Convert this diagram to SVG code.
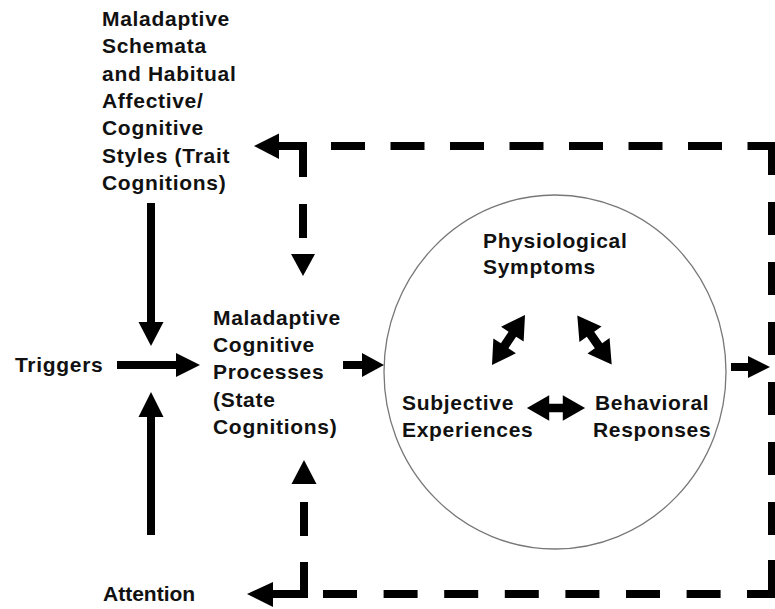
<svg xmlns="http://www.w3.org/2000/svg" width="775" height="609" viewBox="0 0 775 609">
<style>
.t{font-family:"Liberation Sans",Arial,sans-serif;font-weight:bold;font-size:21px;letter-spacing:0.7px;fill:#111}
.solid{stroke:#000;stroke-width:8;fill:none}
.dash{stroke:#000;stroke-width:8;fill:none}
.head{fill:#000}
</style>
<defs>
<polygon id="dbl" points="-30,0 -7,-13.5 -7,-4.5 7,-4.5 7,-13.5 30,0 7,13.5 7,4.5 -7,4.5 -7,13.5"/>
</defs>
<rect width="775" height="609" fill="#fff"/>

<g id="trait">
<text class="t"><tspan x="102" y="26">Maladaptive</tspan><tspan x="102" y="53">Schemata</tspan><tspan x="102" y="81">and Habitual</tspan><tspan x="102" y="108">Affective/</tspan><tspan x="102" y="135">Cognitive</tspan><tspan x="102" y="163">Styles (Trait</tspan><tspan x="102" y="190">Cognitions)</tspan></text>
</g>
<g id="triggers"><text class="t" x="15" y="372">Triggers</text></g>
<g id="attention"><text class="t" x="103" y="601" style="letter-spacing:0">Attention</text></g>
<g id="state">
<text class="t"><tspan x="213" y="325">Maladaptive</tspan><tspan x="213" y="352">Cognitive</tspan><tspan x="213" y="379">Processes</tspan><tspan x="213" y="407">(State</tspan><tspan x="213" y="434">Cognitions)</tspan></text>
</g>
<g id="response">
<ellipse cx="555" cy="372" rx="171" ry="177" fill="none" stroke="#777" stroke-width="1.3"/>
<text class="t"><tspan x="483" y="248">Physiological</tspan><tspan x="483" y="274">Symptoms</tspan></text>
<text class="t"><tspan x="402" y="410">Subjective</tspan><tspan x="402" y="437">Experiences</tspan></text>
<text class="t"><tspan x="595" y="410">Behavioral</tspan><tspan x="593" y="437">Responses</tspan></text>
<use href="#dbl" transform="translate(508.5,340) rotate(-56.6)"/>
<use href="#dbl" transform="translate(594.5,340) rotate(55)"/>
<use href="#dbl" transform="translate(556,408) scale(0.97,0.95)"/>
</g>

<g id="connectors">
<line class="solid" x1="151" y1="203" x2="151" y2="323"/>
<polygon class="head" points="138.5,322 163.5,322 151,346"/>
<line class="solid" x1="117" y1="365" x2="177" y2="365"/>
<polygon class="head" points="176,353 176,377 200,365"/>
<line class="solid" x1="151" y1="535" x2="151" y2="416"/>
<polygon class="head" points="138.5,417 163.5,417 151,392"/>
<line class="solid" x1="343" y1="365" x2="363" y2="365"/>
<polygon class="head" points="362,353 362,377 384,365"/>
<line class="solid" x1="731" y1="367" x2="749" y2="367"/>
<polygon class="head" points="748,356 748,378 770,367"/>

<path class="dash" d="M331,146 H780" stroke-dasharray="34 25.5"/>
<path class="solid" d="M277,146 H303 V177"/>
<polygon class="head" points="254,146 279,133.5 279,159"/>
<line class="solid" x1="303" y1="204" x2="303" y2="238"/>
<polygon class="head" points="291,254 315,254 303,276"/>
<path class="dash" d="M772,535 V140" stroke-dasharray="33 27"/>
<path class="solid" d="M772,560 V594 H747"/>
<path class="dash" d="M323,594 H745" stroke-dasharray="34 26.6"/>
<path class="solid" d="M273,594 H304 V562"/>
<polygon class="head" points="247,594 273,582 273,607"/>
<line class="solid" x1="304" y1="502" x2="304" y2="536"/>
<polygon class="head" points="291.5,484 316.5,484 304,460"/>
</g>
</svg>
